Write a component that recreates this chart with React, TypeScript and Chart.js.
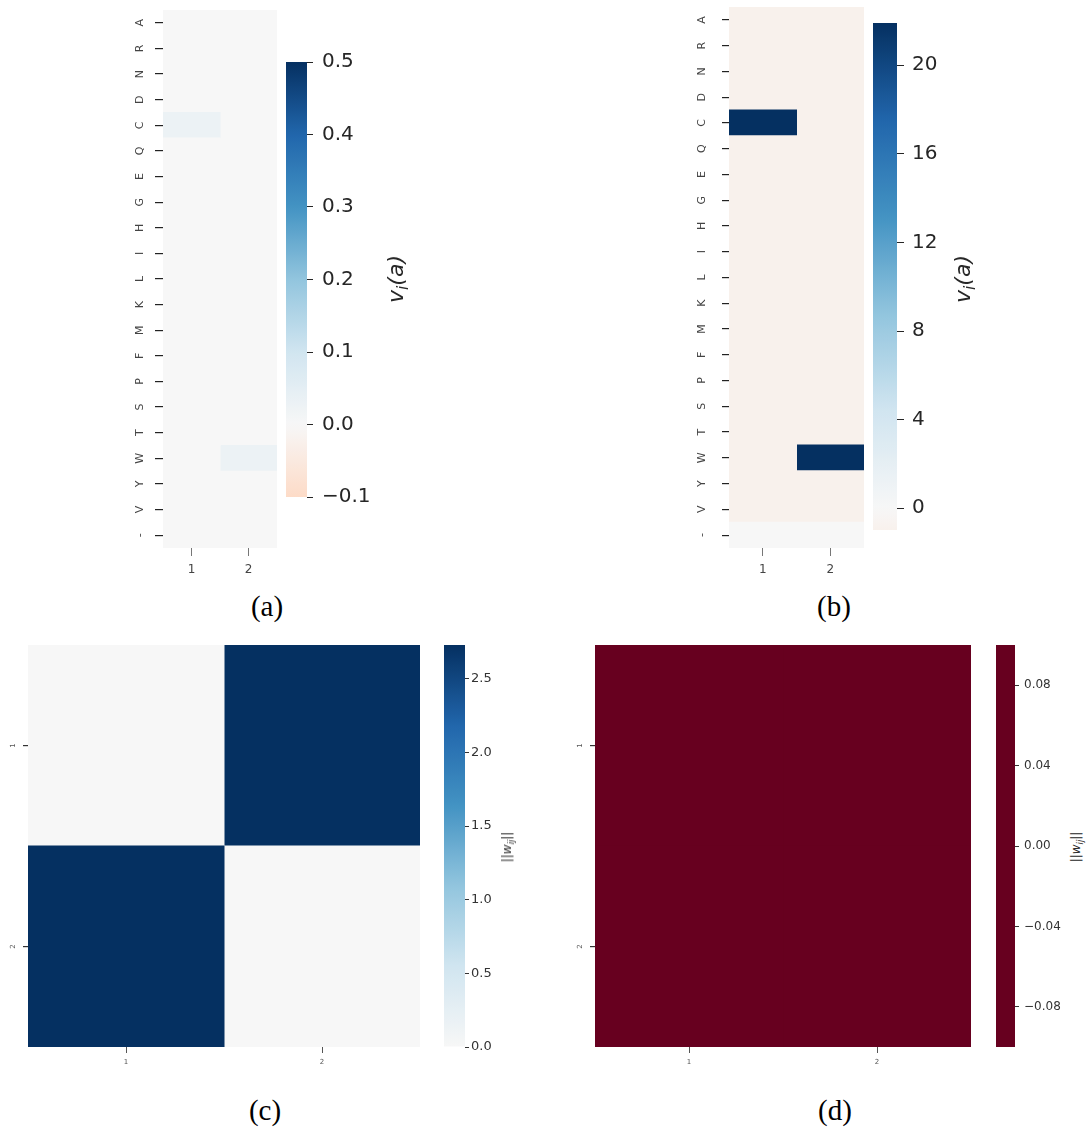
import React, { useEffect, useRef } from 'react';
import { Chart, registerables } from 'chart.js';

Chart.register(...registerables);
Chart.defaults.font.family = "'DejaVu Sans', sans-serif";

// ---------- data ----------
const AA_LABELS = ['A', 'R', 'N', 'D', 'C', 'Q', 'E', 'G', 'H', 'I', 'L', 'K', 'M', 'F', 'P', 'S', 'T', 'W', 'Y', 'V', '-'];
const POS_LABELS = ['1', '2'];
const IJ_LABELS = ['1', '2'];

// panel (a): v_i(a) for positions 1 and 2
const A_POS1 = [0, 0, 0, 0, 0.03, 0, 0, 0, 0, 0, 0, 0, 0, 0, 0, 0, 0, 0, 0, 0, 0];
const A_POS2 = [0, 0, 0, 0, 0, 0, 0, 0, 0, 0, 0, 0, 0, 0, 0, 0, 0, 0.03, 0, 0, 0];
const A_RANGE = [-0.1, 0.5];
const A_CB_TICKS = [-0.1, 0, 0.1, 0.2, 0.3, 0.4, 0.5];

// panel (b): v_i(a) for positions 1 and 2
const B_POS1 = [-0.98, -0.98, -0.98, -0.98, 21.9, -0.98, -0.98, -0.98, -0.98, -0.98, -0.98, -0.98, -0.98, -0.98, -0.98, -0.98, -0.98, -0.98, -0.98, -0.98, 0];
const B_POS2 = [-0.98, -0.98, -0.98, -0.98, -0.98, -0.98, -0.98, -0.98, -0.98, -0.98, -0.98, -0.98, -0.98, -0.98, -0.98, -0.98, -0.98, 21.9, -0.98, -0.98, 0];
const B_CB_TICKS = [0, 4, 8, 12, 16, 20];

// panel (c): ||w_ij||
const C_ROW1 = [0, 2.73];
const C_ROW2 = [2.73, 0];
const C_CB_TICKS = [0, 0.5, 1.0, 1.5, 2.0, 2.5];

// panel (d): ||w_ij||
const D_ROW1 = [0, 0];
const D_ROW2 = [0, 0];
const D_CB_RANGE = [-0.1, 0.1];
const D_CB_TICKS = [-0.08, -0.04, 0, 0.04, 0.08];

// ---------- colour map (matplotlib RdBu, seaborn centred) ----------
const RDBU: number[][] = [
  [103, 0, 31], [178, 24, 43], [214, 96, 77], [244, 165, 130], [253, 219, 199],
  [247, 247, 247], [209, 229, 240], [146, 197, 222], [67, 147, 195], [33, 102, 172], [5, 48, 97],
];
function rdbu(t: number): string {
  const x = Math.min(1, Math.max(0, t)) * (RDBU.length - 1);
  const i = Math.min(RDBU.length - 2, Math.floor(x));
  const f = x - i;
  const a = RDBU[i], b = RDBU[i + 1];
  const c = (k: number) => Math.round(a[k] + (b[k] - a[k]) * f);
  return `rgb(${c(0)},${c(1)},${c(2)})`;
}
function centeredCmap(vmin: number, vmax: number, center = 0) {
  const vrange = Math.max(vmax - center, center - vmin);
  const toT = (v: number) => (vrange === 0 ? 0 : (v - (center - vrange)) / (2 * vrange));
  const lo = toT(vmin), hi = toT(vmax);
  return (v: number) => {
    const f = vmax === vmin ? 0 : Math.min(1, Math.max(0, (v - vmin) / (vmax - vmin)));
    return rdbu(lo + (hi - lo) * f);
  };
}
const minOf = (a: number[][]) => Math.min(...a.flat());
const maxOf = (a: number[][]) => Math.max(...a.flat());

const fmt = (v: number, d: number) => (v < -1e-12 ? '\u2212' : '') + Math.abs(v).toFixed(d);

// ---------- plugin: rotated y labels ----------
const rotYLabels = {
  id: 'rotYLabels',
  afterDraw(chart: any, _args: any, opts: any) {
    if (!opts || !opts.labels) return;
    const y = chart.scales.y;
    const ctx = chart.ctx;
    ctx.save();
    ctx.font = opts.fontStr;
    ctx.fillStyle = opts.color;
    ctx.textAlign = 'center';
    ctx.textBaseline = 'middle';
    opts.labels.forEach((lab: string, i: number) => {
      const py = y.getPixelForTick(i);
      ctx.save();
      ctx.translate(chart.chartArea.left - opts.offset, py);
      ctx.rotate(-Math.PI / 2);
      ctx.fillText(lab, 0, 0);
      ctx.restore();
    });
    ctx.restore();
  },
};

type Box = { L: number; T: number; R: number; B: number };

function Heatmap(props: {
  area: Box; yw: number; xh: number; pad: number;
  rowLabels: string[]; colLabels: string[]; columns: number[][]; cmap: (v: number) => string;
  yTick: number; xTick: number; yOffset: number; yFont: string; xFontSize: number; xPad: number;
  labelColor: string; yTickColor: string; xTickColor: string;
}) {
  const ref = useRef<HTMLCanvasElement>(null);
  const { area, yw, xh, pad } = props;
  const width = area.R - area.L + yw + 2 * pad;
  const height = area.B - area.T + xh + 2 * pad;
  useEffect(() => {
    const chart = new Chart(ref.current as HTMLCanvasElement, {
      type: 'bar',
      data: {
        labels: props.rowLabels,
        datasets: props.columns.map((vals) => ({
          data: vals.map(() => 1),
          backgroundColor: vals.map(props.cmap),
          borderWidth: 0,
          inflateAmount: 0.5,
          barPercentage: 1,
          categoryPercentage: 1,
        })),
      },
      options: {
        indexAxis: 'y',
        animation: false,
        responsive: false,
        events: [],
        layout: { padding: pad },
        plugins: {
          legend: { display: false },
          tooltip: { enabled: false },
          rotYLabels: { labels: props.rowLabels, fontStr: props.yFont, color: props.labelColor, offset: props.yOffset },
        } as any,
        scales: {
          x: {
            type: 'linear', stacked: true, min: 0, max: props.colLabels.length,
            grid: { display: true, drawOnChartArea: false, drawTicks: true, tickLength: props.xTick, color: props.xTickColor, lineWidth: 1 },
            border: { display: false },
            afterBuildTicks: (s: any) => { s.ticks = props.colLabels.map((_, j) => ({ value: j + 0.5 })); },
            ticks: { callback: (_v: any, i: number) => props.colLabels[i], autoSkip: false, maxRotation: 0, font: { size: props.xFontSize }, color: props.labelColor, padding: props.xPad },
            afterFit: (s: any) => { s.height = xh; },
          },
          y: {
            type: 'category', stacked: true, offset: true,
            grid: { display: true, offset: false, drawOnChartArea: false, drawTicks: true, tickLength: props.yTick, color: props.yTickColor, lineWidth: 1.2 },
            border: { display: false },
            ticks: { display: false },
            afterFit: (s: any) => { s.width = yw; },
          },
        },
      } as any,
      plugins: [rotYLabels as any],
    });
    return () => chart.destroy();
  }, []);
  return (
    <canvas ref={ref} width={width} height={height}
      style={{ position: 'absolute', left: area.L - yw - pad, top: area.T - pad, width, height }} />
  );
}

function Colorbar(props: {
  area: Box; yw: number; vmin: number; vmax: number; ticks: number[]; decimals: number;
  cmap: (v: number) => string; tickLen: number; fontSize: number; padding: number; color: string;
}) {
  const ref = useRef<HTMLCanvasElement>(null);
  const { area, yw } = props;
  const padL = 2, padR = 2, padV = 32;
  const width = area.R - area.L + yw + padL + padR;
  const height = area.B - area.T + 2 * padV;
  useEffect(() => {
    const chart = new Chart(ref.current as HTMLCanvasElement, {
      type: 'bar',
      data: {
        labels: [''],
        datasets: [{
          data: [[props.vmin, props.vmax]],
          backgroundColor: (ctx: any) => {
            const ch = ctx.chart;
            const y = ch.scales && ch.scales.y;
            if (!y || !ch.chartArea) return 'rgba(0,0,0,0)';
            const y0 = y.getPixelForValue(props.vmin);
            const y1 = y.getPixelForValue(props.vmax);
            const g = ch.ctx.createLinearGradient(0, y0, 0, y1);
            const n = 64;
            for (let i = 0; i <= n; i++) {
              const f = i / n;
              g.addColorStop(f, props.cmap(props.vmin + f * (props.vmax - props.vmin)));
            }
            return g;
          },
          borderWidth: 0,
          inflateAmount: 0,
          barPercentage: 1,
          categoryPercentage: 1,
        }],
      },
      options: {
        animation: false,
        responsive: false,
        events: [],
        layout: { padding: { left: padL, right: padR, top: padV, bottom: padV } },
        plugins: { legend: { display: false }, tooltip: { enabled: false } },
        scales: {
          x: { display: false },
          y: {
            type: 'linear', position: 'right', min: props.vmin, max: props.vmax,
            grid: { display: true, drawOnChartArea: false, drawTicks: true, tickLength: props.tickLen, color: props.color, lineWidth: 1 },
            border: { display: false },
            afterBuildTicks: (s: any) => { s.ticks = props.ticks.map((v) => ({ value: v })); },
            ticks: { callback: (v: any) => fmt(Number(v), props.decimals), font: { size: props.fontSize }, color: props.color, padding: props.padding, autoSkip: false },
            afterFit: (s: any) => { s.width = yw; },
          },
        },
      } as any,
    });
    return () => chart.destroy();
  }, []);
  return (
    <canvas ref={ref} width={width} height={height}
      style={{ position: 'absolute', left: area.L - padL, top: area.T - padV, width, height }} />
  );
}

function Caption({ x, y, text }: { x: number; y: number; text: string }) {
  return (
    <div style={{
      position: 'absolute', left: x, top: y, transform: 'translate(-50%, -50%)',
      fontFamily: "'Liberation Serif', serif", fontSize: 29, lineHeight: 1, color: '#000', whiteSpace: 'nowrap',
    }}>{text}</div>
  );
}

function VLabel({ x, y, size, children }: { x: number; y: number; size: number; children: any }) {
  return (
    <div style={{
      position: 'absolute', left: x, top: y, transform: 'translate(-50%, -50%) rotate(-90deg)',
      fontFamily: "'DejaVu Sans', sans-serif", fontSize: size, lineHeight: 1, color: '#262626', whiteSpace: 'nowrap',
    }}>{children}</div>
  );
}

const subStyle = { fontSize: '0.7em', verticalAlign: '-0.3em', lineHeight: 0 } as const;

export default function App() {
  const aCols = [A_POS1, A_POS2];
  const bCols = [B_POS1, B_POS2];
  const cMat = [C_ROW1, C_ROW2];
  const dMat = [D_ROW1, D_ROW2];
  const cCols = IJ_LABELS.map((_, j) => cMat.map((r) => r[j]));
  const dCols = IJ_LABELS.map((_, j) => dMat.map((r) => r[j]));

  const aCmap = centeredCmap(A_RANGE[0], A_RANGE[1]);
  const bMin = minOf(bCols), bMax = maxOf(bCols);
  const bCmap = centeredCmap(bMin, bMax);
  const cMin = minOf(cMat), cMax = maxOf(cMat);
  const cCmap = centeredCmap(cMin, cMax);
  const dCmap = centeredCmap(minOf(dMat), maxOf(dMat));

  const vLabel = (<span style={{ fontStyle: 'italic' }}>v<sub style={subStyle}>i</sub>(a)</span>);
  const wLabel = (<span>||<i>w</i><sub style={subStyle}><i>ij</i></sub>||</span>);

  return (
    <div style={{ position: 'absolute', left: 0, top: 0, width: 1086, height: 1128, background: '#fff', overflow: 'hidden' }}>
      {/* (a) */}
      <Heatmap area={{ L: 163, T: 10, R: 277, B: 548 }} yw={40} xh={30} pad={5}
        rowLabels={AA_LABELS} colLabels={POS_LABELS} columns={aCols} cmap={aCmap}
        yTick={8} xTick={8} yOffset={22.5} yFont="11px 'DejaVu Sans'" xFontSize={12} xPad={7}
        labelColor="#444" yTickColor="#222" xTickColor="#777" />
      <Colorbar area={{ L: 286, T: 62, R: 307, B: 497 }} yw={80} vmin={A_RANGE[0]} vmax={A_RANGE[1]}
        ticks={A_CB_TICKS} decimals={1} cmap={aCmap} tickLen={6} fontSize={20} padding={9} color="#262626" />
      <VLabel x={396} y={279} size={22}>{vLabel}</VLabel>
      <Caption x={267} y={606} text="(a)" />

      {/* (b) */}
      <Heatmap area={{ L: 729, T: 7, R: 864, B: 548 }} yw={40} xh={30} pad={5}
        rowLabels={AA_LABELS} colLabels={POS_LABELS} columns={bCols} cmap={bCmap}
        yTick={7} xTick={8} yOffset={26.5} yFont="11px 'DejaVu Sans'" xFontSize={12} xPad={7}
        labelColor="#444" yTickColor="#222" xTickColor="#777" />
      <Colorbar area={{ L: 873, T: 23, R: 897, B: 530 }} yw={70} vmin={bMin} vmax={bMax}
        ticks={B_CB_TICKS} decimals={0} cmap={bCmap} tickLen={7} fontSize={20} padding={8} color="#262626" />
      <VLabel x={963} y={279} size={22}>{vLabel}</VLabel>
      <Caption x={834} y={606} text="(b)" />

      {/* (c) */}
      <Heatmap area={{ L: 28, T: 645, R: 420, B: 1047 }} yw={26} xh={22} pad={2}
        rowLabels={IJ_LABELS} colLabels={IJ_LABELS} columns={cCols} cmap={cCmap}
        yTick={5} xTick={6} yOffset={14.5} yFont="7px 'DejaVu Sans'" xFontSize={7} xPad={5}
        labelColor="#555" yTickColor="#333" xTickColor="#555" />
      <Colorbar area={{ L: 444, T: 645, R: 465, B: 1047 }} yw={45} vmin={cMin} vmax={cMax}
        ticks={C_CB_TICKS} decimals={1} cmap={cCmap} tickLen={4} fontSize={13} padding={2} color="#333" />
      <VLabel x={507} y={847} size={12}>{wLabel}</VLabel>
      <Caption x={265} y={1110} text="(c)" />

      {/* (d) */}
      <Heatmap area={{ L: 595, T: 645, R: 971, B: 1047 }} yw={26} xh={22} pad={2}
        rowLabels={IJ_LABELS} colLabels={IJ_LABELS} columns={dCols} cmap={dCmap}
        yTick={5} xTick={6} yOffset={14.5} yFont="7px 'DejaVu Sans'" xFontSize={7} xPad={5}
        labelColor="#555" yTickColor="#333" xTickColor="#555" />
      <Colorbar area={{ L: 996, T: 645, R: 1015, B: 1047 }} yw={50} vmin={D_CB_RANGE[0]} vmax={D_CB_RANGE[1]}
        ticks={D_CB_TICKS} decimals={2} cmap={dCmap} tickLen={4} fontSize={12} padding={5} color="#333" />
      <VLabel x={1076} y={847} size={12}>{wLabel}</VLabel>
      <Caption x={835} y={1110} text="(d)" />
    </div>
  );
}
